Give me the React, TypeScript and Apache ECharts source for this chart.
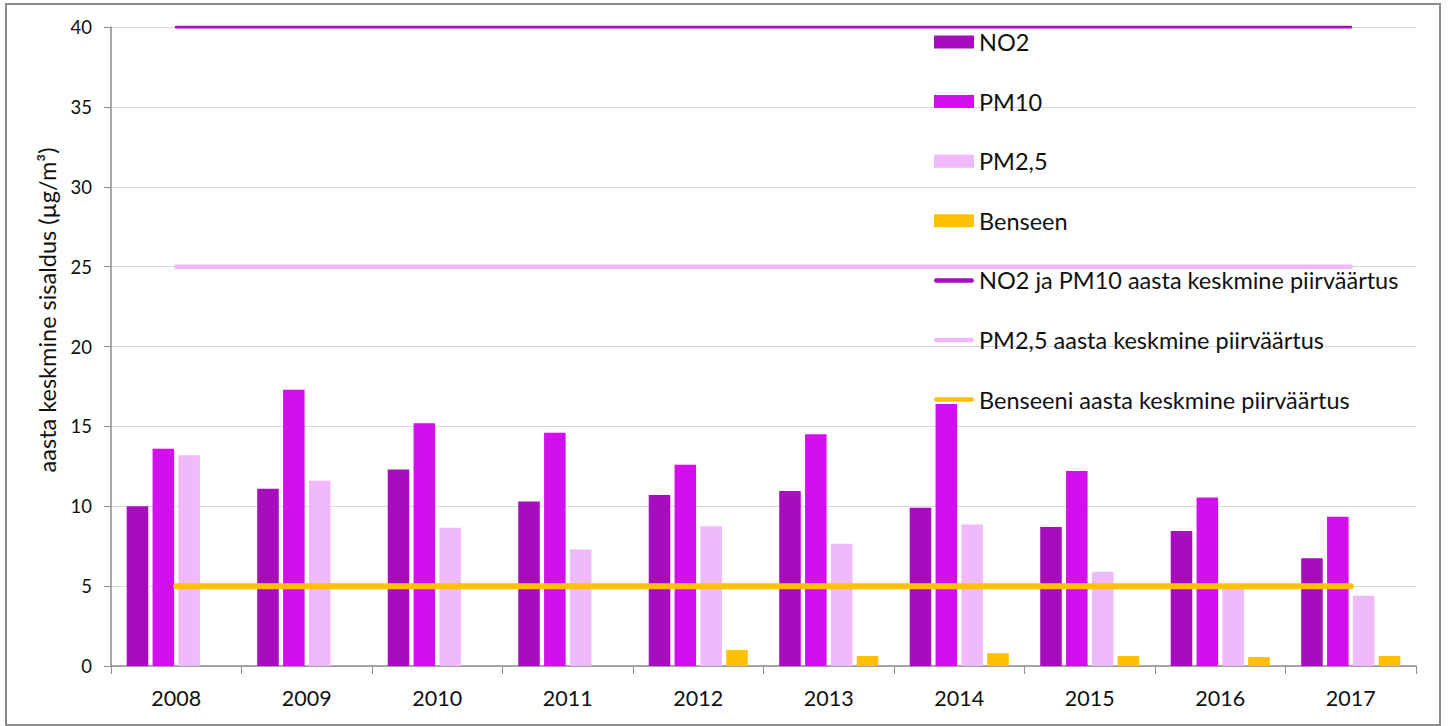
import React, { useEffect, useRef } from "react";
import * as echarts from "echarts";

const years = ["2008", "2009", "2010", "2011", "2012", "2013", "2014", "2015", "2016", "2017"];
const no2 = [10.0, 11.1, 12.3, 10.3, 10.7, 10.95, 9.9, 8.7, 8.45, 6.75];
const pm10 = [13.6, 17.3, 15.2, 14.6, 12.6, 14.5, 16.4, 12.2, 10.55, 9.35];
const pm25 = [13.2, 11.6, 8.65, 7.3, 8.75, 7.65, 8.85, 5.9, 4.9, 4.4];
const benseen = [null, null, null, null, 1.0, 0.63, 0.8, 0.63, 0.56, 0.63];
const no2pm10Limit = [40, 40, 40, 40, 40, 40, 40, 40, 40, 40];
const pm25Limit = [25, 25, 25, 25, 25, 25, 25, 25, 25, 25];
const benseenLimit = [5, 5, 5, 5, 5, 5, 5, 5, 5, 5];
const yAxisTitle = "aasta keskmine sisaldus (µg/m³)";

const FONT = "Lato, 'Open Sans', sans-serif";
const LINE_ICON = "path://M2.5 0 H41.5 A2.5 2.5 0 0 1 41.5 5 H2.5 A2.5 2.5 0 0 1 2.5 0 Z";

export default function App() {
  const ref = useRef<HTMLDivElement>(null);
  useEffect(() => {
    if (!ref.current) return;
    const chart = echarts.init(ref.current, undefined, { renderer: "svg" });
    const barBase = { type: "bar", barWidth: "16.5%", barGap: "20%" };
    chart.setOption({
      animation: false,
      backgroundColor: "#fff",
      textStyle: { fontFamily: FONT },
      graphic: [
        {
          type: "rect",
          shape: { x: 6, y: 4, width: 1434, height: 721 },
          style: { fill: "none", stroke: "#8c8c8c", lineWidth: 2 },
          silent: true,
          z: -10,
        },
        {
          type: "text",
          x: 47,
          y: 310,
          rotation: Math.PI / 2,
          style: {
            text: yAxisTitle,
            fontFamily: FONT,
            fontSize: 23.5,
            fill: "#111",
            align: "center",
            verticalAlign: "middle",
          },
          silent: true,
        },
      ],
      grid: { left: 111, right: 34, top: 27, bottom: 60 },
      legend: {
        orient: "vertical",
        left: 929,
        top: 25,
        itemWidth: 40,
        itemHeight: 13,
        itemGap: 35.6,
        symbolKeepAspect: true,
        textStyle: { fontFamily: FONT, fontSize: 23.5, color: "#111" },
        data: [
          { name: "NO2", icon: "rect" },
          { name: "PM10", icon: "rect" },
          { name: "PM2,5", icon: "rect" },
          { name: "Benseen", icon: "rect" },
          { name: "NO2 ja PM10 aasta keskmine piirväärtus", icon: LINE_ICON },
          { name: "PM2,5 aasta keskmine piirväärtus", icon: LINE_ICON },
          { name: "Benseeni aasta keskmine piirväärtus", icon: LINE_ICON },
        ],
      },
      xAxis: {
        type: "category",
        data: years,
        boundaryGap: true,
        axisLine: { lineStyle: { color: "#8c8c8c", width: 1.5 } },
        axisTick: { show: true, length: 8, lineStyle: { color: "#8c8c8c" } },
        axisLabel: { fontFamily: FONT, fontSize: 21.5, color: "#111", margin: 21 },
      },
      yAxis: {
        type: "value",
        min: 0,
        max: 40,
        interval: 5,
        axisLine: { show: true, lineStyle: { color: "#8c8c8c", width: 1.5 } },
        axisTick: { show: true, length: 7, lineStyle: { color: "#8c8c8c" } },
        axisLabel: { fontFamily: FONT, fontSize: 18.5, color: "#111", margin: 19 },
        splitLine: { lineStyle: { color: "#d9d9d9", width: 1 } },
      },
      series: [
        { ...barBase, name: "NO2", data: no2, itemStyle: { color: "#a50dbd" } },
        { ...barBase, name: "PM10", data: pm10, itemStyle: { color: "#d30fed" } },
        { ...barBase, name: "PM2,5", data: pm25, itemStyle: { color: "#efb9fb" } },
        { ...barBase, name: "Benseen", data: benseen, itemStyle: { color: "#ffc000" } },
        {
          type: "line",
          name: "NO2 ja PM10 aasta keskmine piirväärtus",
          data: no2pm10Limit,
          symbol: "none",
          lineStyle: { color: "#a50dbd", width: 3, cap: "round" },
          itemStyle: { color: "#a50dbd" },
          z: 5,
        },
        {
          type: "line",
          name: "PM2,5 aasta keskmine piirväärtus",
          data: pm25Limit,
          symbol: "none",
          lineStyle: { color: "#efb9fb", width: 4.5, cap: "round" },
          itemStyle: { color: "#efb9fb" },
          z: 5,
        },
        {
          type: "line",
          name: "Benseeni aasta keskmine piirväärtus",
          data: benseenLimit,
          symbol: "none",
          lineStyle: { color: "#ffc000", width: 6, cap: "round" },
          itemStyle: { color: "#ffc000" },
          z: 5,
        },
      ],
    });
    return () => chart.dispose();
  }, []);
  return (
    <div
      ref={ref}
      style={{ position: "absolute", left: 0, top: 0, width: 1450, height: 726 }}
    />
  );
}
